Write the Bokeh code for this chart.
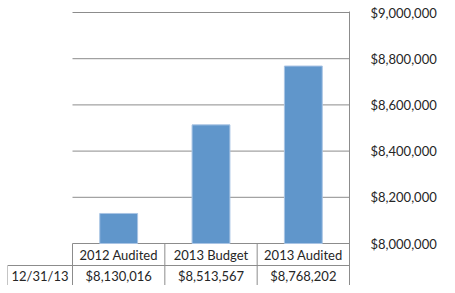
from bokeh.plotting import figure
from bokeh.models import Range1d, LinearAxis, FixedTicker, NumeralTickFormatter
from bokeh.core.properties import value
from bokeh.embed import file_html
from bokeh.resources import INLINE

categories = ["2012 Audited", "2013 Budget", "2013 Audited"]
values = [8130016, 8513567, 8768202]
row_label = "12/31/13"
value_texts = ["$8,130,016", "$8,513,567", "$8,768,202"]
ticks = [8000000, 8200000, 8400000, 8600000, 8800000, 9000000]

W, H = 439, 285
L, R, T, B = 7, 90, 11, 0
FONT = "Lato"
GRID = "#8c8c8c"
TXT = "#262626"

# layout helpers: pixel sizes converted into data units
plot_px = 231                      # height of the value area in pixels
dpp = (ticks[-1] - ticks[0]) / plot_px
frame_h = H - T - B
y_end = ticks[-1] + 1 * dpp
y_start = y_end - frame_h * dpp
cw_px = (W - R - 72) / len(categories)   # category width in pixels
x_start = -(72 - L) / cw_px
n = len(categories)

p = figure(width=W, height=H, x_range=Range1d(x_start, n),
           y_range=Range1d(y_start, y_end), output_backend="svg",
           toolbar_location=None, min_border_left=L, min_border_right=R,
           min_border_top=T, min_border_bottom=B, y_axis_location=None,
           x_axis_location=None)
p.outline_line_color = None
p.xgrid.visible = False
p.ygrid.visible = False

# gridlines over the category area only
p.segment(x0=[0] * len(ticks), x1=[n] * len(ticks), y0=ticks, y1=ticks,
          line_color=GRID, line_width=1)

xs = [i + 0.5 for i in range(n)]
p.vbar(x=xs, top=values, bottom=ticks[0], width=0.41,
       fill_color="#6096CB", line_color="#a9c4e4", line_width=1)

ax = LinearAxis(ticker=FixedTicker(ticks=ticks),
                formatter=NumeralTickFormatter(format="$0,0"))
ax.axis_line_color = GRID
ax.major_tick_line_color = None
ax.minor_tick_line_color = None
ax.major_label_standoff = 15
ax.major_label_text_font = FONT
ax.major_label_text_font_size = "13px"
ax.major_label_text_color = TXT
p.add_layout(ax, "right")

# data table under the bars
row_h = 22 * dpp
hdr_top = ticks[0]
hdr_bot = hdr_top - row_h
bottom = y_start - 10 * dpp
p.segment(x0=[x_start], x1=[n], y0=[hdr_bot], y1=[hdr_bot],
          line_color=GRID, line_width=1)
vx = [x_start] + list(range(n))
vtop = [hdr_bot] + [hdr_top] * n
p.segment(x0=vx, x1=vx, y0=vtop, y1=[bottom] * len(vx),
          line_color=GRID, line_width=1)

hdr_mid = hdr_top - 11.5 * dpp
row_mid = hdr_bot - 10.5 * dpp
p.text(x=xs, y=[hdr_mid] * n, text=categories, text_font=value(FONT),
       text_font_size="13px", text_color=TXT, text_align="center",
       text_baseline="middle")
p.text(x=xs + [x_start / 2], y=[row_mid] * (n + 1),
       text=value_texts + [row_label], text_font=value(FONT),
       text_font_size="13px", text_color=TXT, text_align="center",
       text_baseline="middle")

open("out.html", "w").write(file_html(p, INLINE))
